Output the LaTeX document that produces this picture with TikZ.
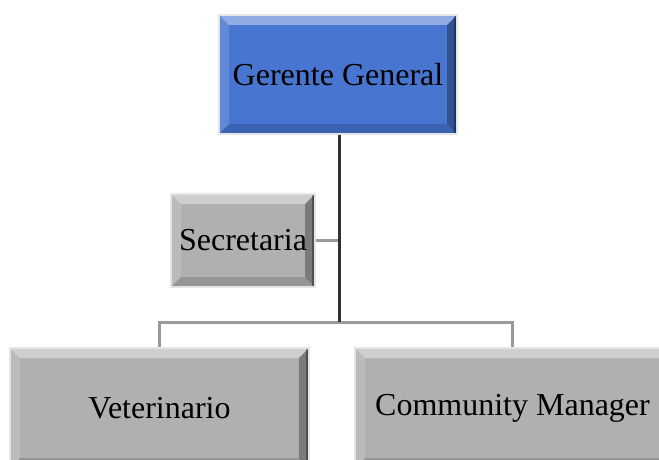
\documentclass[tikz,border=0pt]{standalone}
\usepackage{fontspec}
\setmainfont{Liberation Serif}
\usetikzlibrary{calc}
\definecolor{ggblue}{HTML}{4775D0}
\definecolor{boxgray}{HTML}{B0B0B0}
\definecolor{linegray}{HTML}{9A9A9A}
\definecolor{maindark}{HTML}{303030}
\tikzset{
  x=1pt, y=1pt,
  bevelbox/.style={rectangle, draw=gray!20, line width=1.2pt, fill=#1, inner sep=0pt,
    font=\fontsize{32}{38}\selectfont, text=black,
    path picture={
      \coordinate (ppnw) at (path picture bounding box.north west);
      \coordinate (ppne) at (path picture bounding box.north east);
      \coordinate (ppsw) at (path picture bounding box.south west);
      \coordinate (ppse) at (path picture bounding box.south east);
      \fill[white, opacity=0.4] (ppnw) -- (ppne) -- ($(ppne)+(-10,-10)$) -- ($(ppnw)+(10,-10)$) -- cycle;
      \fill[white, opacity=0.15] (ppnw) -- ($(ppnw)+(10,-10)$) -- ($(ppsw)+(10,10)$) -- (ppsw) -- cycle;
      \fill[black, opacity=0.3] (ppne) -- ($(ppne)+(-10,-10)$) -- ($(ppse)+(-10,10)$) -- (ppse) -- cycle;
      \fill[black, opacity=0.35] ($(ppne)+(-3,0)$) rectangle (ppse);
      \fill[black, opacity=0.15] (ppsw) -- ($(ppsw)+(10,10)$) -- ($(ppse)+(-10,10)$) -- (ppse) -- cycle;
    }},
  conn/.style={draw=linegray, line width=3pt},
  mainline/.style={draw=maindark, line width=3pt}
}
\begin{document}
\begin{tikzpicture}
\useasboundingbox (0,0) rectangle (659,459);
\clip (0,0) rectangle (659,459);
\node[bevelbox=ggblue, minimum width=238pt, minimum height=119pt] (gg) at (338,384.5) {Gerente General};
\node[bevelbox=boxgray, minimum width=144pt, minimum height=93pt] (sec) at (243,218.5) {Secretaria};
\node[bevelbox=boxgray, minimum width=299pt, minimum height=120pt] (vet) at (159.5,51) {Veterinario};
\node[bevelbox=boxgray, minimum width=315pt, minimum height=120pt] (cm) at (512.5,51) {Community Manager};
\coordinate (hub) at (339,137);
\draw[conn] (sec.east) -- (sec.east -| hub);
\draw[conn] (vet.north) |- (hub);
\draw[conn] (cm.north) |- (hub);
\draw[mainline] (gg.south -| hub) -- (hub);
\end{tikzpicture}
\end{document}
